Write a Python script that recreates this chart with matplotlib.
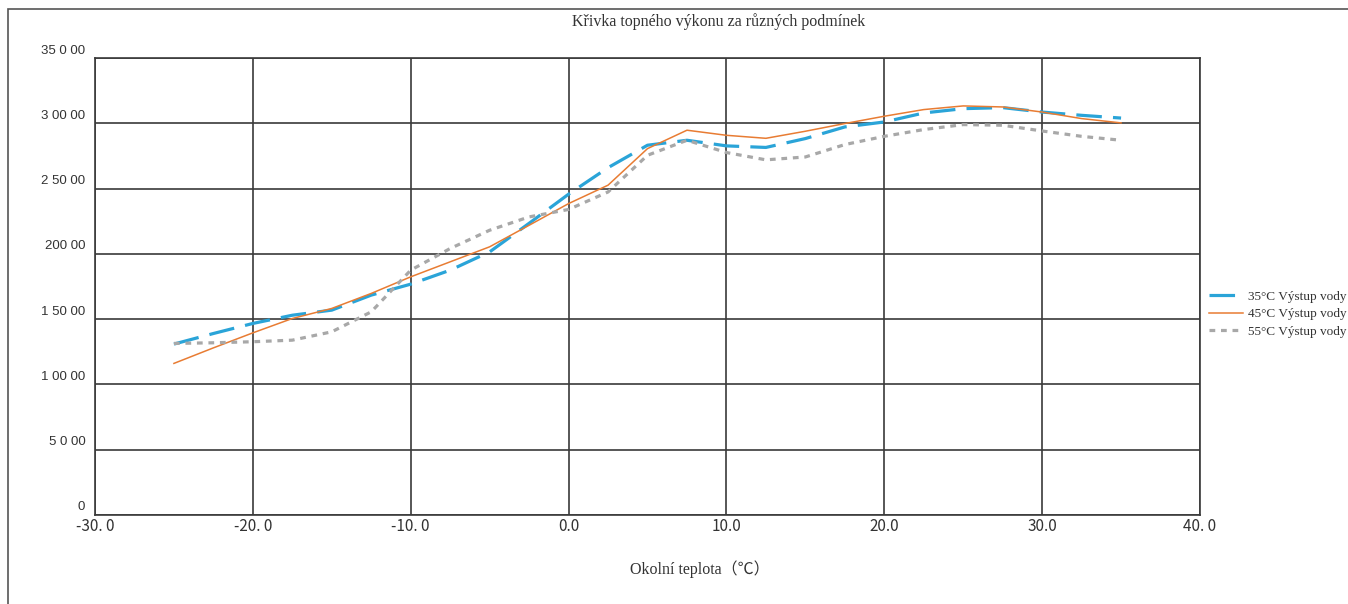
import matplotlib.pyplot as plt
from matplotlib.patches import Rectangle
from matplotlib.transforms import ScaledTranslation

temps = [-25, -22.5, -20, -17.5, -15, -12.5, -10, -7.5, -5, -2.5, 0, 2.5, 5,
         7.5, 10, 12.5, 15, 17.5, 20, 22.5, 25, 27.5, 30, 32.5, 35]
out_35 = [13090, 13900, 14670, 15300, 15690, 16840, 17680, 18750, 20150, 22340,
          24570, 26600, 28320, 28700, 28270, 28150, 28830, 29720, 30100, 30790,
          31120, 31200, 30860, 30610, 30400]
out_45 = [11610, 12800, 13950, 15050, 15820, 16970, 18240, 19390, 20540, 22190,
          23850, 25260, 28060, 29470, 29080, 28850, 29390, 29980, 30540, 31050,
          31330, 31250, 30860, 30360, 30030]
out_55 = [13140, 13190, 13270, 13390, 14030, 15560, 18750, 20410, 21810, 22830,
          23400, 24740, 27550, 28700, 27760, 27200, 27420, 28370, 29000, 29520,
          29900, 29850, 29410, 29000, 28700]

labels = ['35°C Výstup vody', '45°C Výstup vody', '55°C Výstup vody']
xticks = [-30, -20, -10, 0, 10, 20, 30, 40]
xtick_labels = ['-30. 0', '-20. 0', '-10. 0', '0.0', '10.0', '20.0', '30.0', '40. 0']
yticks = [0, 5000, 10000, 15000, 20000, 25000, 30000, 35000]
ytick_labels = ['0', '5 0 00', '1 00 00', '1 50 00', '200 00', '2 50 00', '3 00 00', '35 0 00']

serif = ['Liberation Serif', 'Noto Sans CJK SC', 'DejaVu Sans']

fig = plt.figure(figsize=(13.48, 6.04), dpi=100)
fig.patches.append(Rectangle((8 / 1348, -0.05), 1.2, 1 - 9 / 604 + 0.05,
                             transform=fig.transFigure, fill=False,
                             edgecolor='#555555', lw=1.2))

ax = fig.add_axes([95 / 1348, 1 - 515 / 604, (1200 - 95) / 1348, (515 - 58) / 604])

ax.plot(temps, out_35, color='#2aa4d8', lw=2.3, dashes=(8, 3.5), label=labels[0])
ax.plot(temps, out_45, color='#e87c33', lw=1.1, label=labels[1])
ax.plot(temps, out_55, color='#a8a8a8', lw=2.3, dashes=(1.8, 1.8), label=labels[2])

ax.set_xlim(-30, 40)
ax.set_ylim(0, 35000)
ax.set_xticks(xticks)
ax.set_xticklabels(xtick_labels, family=['Noto Sans CJK SC', 'DejaVu Sans'],
                   fontsize=11, color='#333333')
ax.set_yticks(yticks)
ax.set_yticklabels(ytick_labels, family=['Liberation Sans', 'DejaVu Sans'],
                   fontsize=9.5, color='#333333')
ax.tick_params(length=0, pad=2)
ax.tick_params(axis='y', pad=7)
for lab in ax.get_yticklabels():
    lab.set_transform(lab.get_transform() + ScaledTranslation(0, 9 / 100, fig.dpi_scale_trans))

ax.grid(True, color='#3a3a3a', lw=1.2)
for s in ax.spines.values():
    s.set_color('#3a3a3a')
    s.set_linewidth(1.2)

fig.text(719 / 1348, 1 - 22 / 604, 'Křivka topného výkonu za různých podmínek',
         ha='center', va='center', family=serif, fontsize=11.5, color='#333333')
fig.text(700 / 1348, 1 - 569 / 604, 'Okolní teplota（℃）',
         ha='center', va='center', family=serif, fontsize=11.5, color='#333333')

leg = fig.legend(loc='center left', bbox_to_anchor=(1209 / 1348, 1 - 314 / 604),
                 frameon=False, prop={'family': serif, 'size': 9.5},
                 handlelength=2.6, handletextpad=0.35, labelspacing=0.4,
                 borderpad=0, borderaxespad=0)
for t in leg.get_texts():
    t.set_color('#333333')

fig.savefig('out.png', dpi=100)
plt.close(fig)
